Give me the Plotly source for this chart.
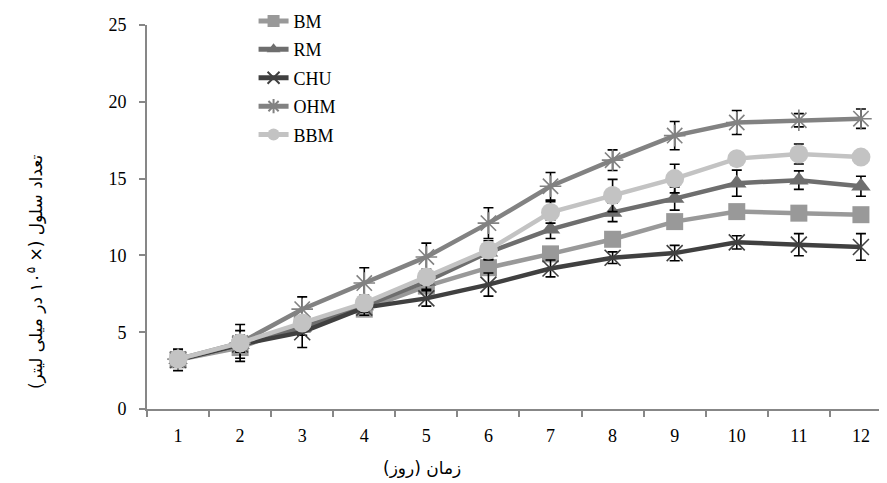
import plotly.graph_objects as go

days = [1, 2, 3, 4, 5, 6, 7, 8, 9, 10, 11, 12]
series_names = ["BM", "RM", "CHU", "OHM", "BBM"]

bm = [3.2, 4.0, 5.5, 6.5, 8.0, 9.2, 10.1, 11.05, 12.2, 12.85, 12.75, 12.65]
rm = [3.2, 4.2, 5.3, 6.7, 8.3, 10.2, 11.7, 12.8, 13.7, 14.7, 14.9, 14.5]
chu = [3.2, 4.2, 5.0, 6.6, 7.2, 8.1, 9.15, 9.85, 10.15, 10.85, 10.7, 10.55]
ohm = [3.25, 4.3, 6.5, 8.2, 9.9, 12.1, 14.5, 16.2, 17.8, 18.65, 18.8, 18.9]
bbm = [3.25, 4.3, 5.6, 6.9, 8.6, 10.35, 12.8, 13.9, 15.0, 16.3, 16.6, 16.4]

bm_err = [0.4, 0.4, 0.3, 0.4, 0.3, 0.4, 0.4, 0.3, 0.4, 0.3, 0.3, 0.3]
rm_err = [0.4, 0.5, 0.5, 0.4, 0.5, 0.5, 0.6, 0.6, 0.75, 0.85, 0.6, 0.65]
chu_err = [0.7, 0.9, 1.0, 0.5, 0.5, 0.75, 0.55, 0.38, 0.5, 0.43, 0.72, 0.87]
ohm_err = [0.5, 1.2, 0.8, 1.0, 0.9, 1.0, 0.9, 0.67, 0.92, 0.78, 0.43, 0.63]
bbm_err = [0.4, 0.5, 0.4, 0.5, 0.5, 0.6, 0.7, 1.05, 0.93, 0.4, 0.65, 0.3]

values = [bm, rm, chu, ohm, bbm]
errors = [bm_err, rm_err, chu_err, ohm_err, bbm_err]
colors = ["#999999", "#6e6e6e", "#404040", "#828282", "#c3c3c3"]
symbols = ["square", "triangle-up", "x-thin-open", "asterisk-open", "circle"]
sizes = [17, 17, 16, 18, 19]

y_ticks = [0, 5, 10, 15, 20, 25]
x_tick_labels = [str(d) for d in days]

fig = go.Figure()
for name, vals, errs, col, sym, sz in zip(series_names, values, errors, colors, symbols, sizes):
    open_marker = sym.endswith("open")
    fig.add_trace(go.Scatter(
        x=days, y=vals, name=name, mode="lines+markers",
        legendgroup=name,
        line=dict(color=col, width=4.5),
        marker=dict(symbol=sym, size=sz, color=col,
                    line=dict(color=col, width=1.6 if open_marker else 0)),
        error_y=dict(type="data", array=errs, visible=True,
                     color="black", thickness=1.6, width=5),
    ))

axis_col = "#878787"
fig.update_layout(
    width=879, height=475,
    margin=dict(l=139, r=0, t=17, b=74, autoexpand=False),
    paper_bgcolor="white", plot_bgcolor="white",
    font=dict(family="Liberation Serif", size=18, color="black"),
    showlegend=True,
    legend=dict(x=0.144, y=1.058, xanchor="left", yanchor="top",
                bgcolor="rgba(0,0,0,0)", tracegroupgap=2,
                itemsizing="constant",
                font=dict(family="Liberation Serif", size=18, color="black")),
    xaxis=dict(range=[0.5, 12.42], showgrid=False, zeroline=False,
               showline=True, linecolor=axis_col, linewidth=2,
               tickmode="array", tickvals=days, ticktext=x_tick_labels,
               ticks="", ticklabelstandoff=9,
               minor=dict(tickmode="array",
                          tickvals=[d - 0.5 for d in days],
                          ticks="outside", ticklen=6, tickcolor=axis_col,
                          tickwidth=1.5, showgrid=False)),
    yaxis=dict(range=[0, 25], showgrid=False, zeroline=False,
               showline=True, linecolor=axis_col, linewidth=2,
               tickmode="array", tickvals=y_ticks,
               ticks="outside", ticklen=6, tickcolor=axis_col, tickwidth=1.5,
               ticklabelstandoff=9),
    annotations=[
        dict(text="تعداد سلول (× ۱۰<sup>۵</sup> در میلی لیتر)",
             xref="paper", yref="paper", x=-0.1514, y=0.359,
             xanchor="center", yanchor="middle", textangle=-90,
             showarrow=False,
             font=dict(family="DejaVu Sans", size=17, color="black")),
        dict(text="زمان (روز)",
             xref="paper", yref="paper", x=0.3716, y=-0.153,
             xanchor="center", yanchor="middle", showarrow=False,
             font=dict(family="DejaVu Sans", size=17, color="black")),
    ],
)

fig.write_html("out.html")
